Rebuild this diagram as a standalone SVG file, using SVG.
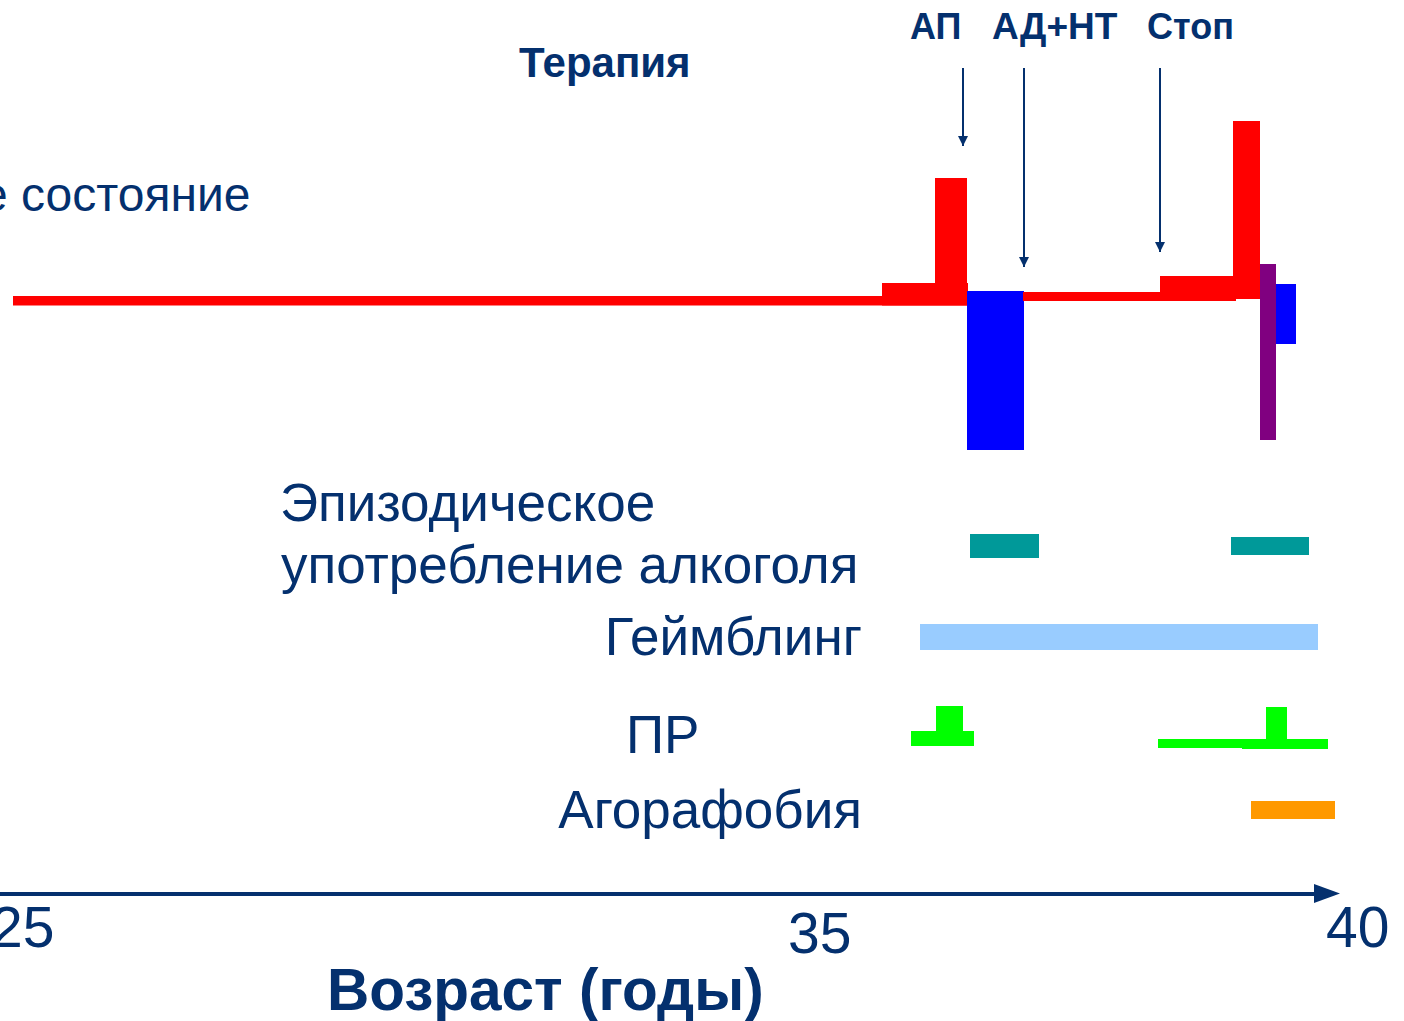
<svg xmlns="http://www.w3.org/2000/svg" width="1404" height="1021" viewBox="0 0 1404 1021">
<style>
text{font-family:"Liberation Sans",Arial,sans-serif;fill:#04306E}
.b{font-weight:bold}
.lbl{font-size:53px}
.num{font-size:57px}
.arr{stroke:#04306E;stroke-width:2;fill:none}
</style>
<defs>
<marker id="ah" viewBox="0 0 10 10" refX="10" refY="5" markerWidth="10" markerHeight="10" markerUnits="userSpaceOnUse" orient="auto">
<path d="M0,0 L10,5 L0,10 Z" fill="#04306E"/>
</marker>
</defs>
<rect width="1404" height="1021" fill="#fff"/>
<g id="titles">
<text class="b" x="519" y="77" font-size="42">Терапия</text>
<text class="b" x="910" y="39" font-size="36">АП</text>
<text class="b" x="992" y="39" font-size="37">АД+НТ</text>
<text class="b" x="1147" y="39" font-size="36">Стоп</text>
<text x="-19" y="211" font-size="48">е состояние</text>
</g>
<g id="connectors">
<line class="arr" x1="963" y1="68" x2="963" y2="146" marker-end="url(#ah)"/>
<line class="arr" x1="1024" y1="68" x2="1024" y2="267" marker-end="url(#ah)"/>
<line class="arr" x1="1160" y1="68" x2="1160" y2="252" marker-end="url(#ah)"/>
</g>
<g id="state">
<rect x="13" y="296" width="955" height="9.5" fill="#f00"/>
<rect x="882" y="283" width="86" height="22.5" fill="#f00"/>
<rect x="935" y="178" width="32" height="127" fill="#f00"/>
<rect x="967" y="291" width="57" height="159" fill="#00f"/>
<rect x="1023" y="292" width="213" height="9" fill="#f00"/>
<rect x="1160" y="276" width="75" height="24" fill="#f00"/>
<rect x="1233" y="121" width="27" height="178" fill="#f00"/>
<rect x="1260" y="264" width="16" height="176" fill="#800080"/>
<rect x="1276" y="284" width="20" height="60" fill="#00f"/>
</g>
<g id="alcohol">
<text class="lbl" x="280" y="521">Эпизодическое</text>
<text class="lbl" x="281" y="583">употребление алкоголя</text>
<rect x="970" y="534" width="69" height="24" fill="#009999"/>
<rect x="1231" y="537" width="78" height="18" fill="#009999"/>
</g>
<g id="gambling">
<text class="lbl" x="862" y="655" text-anchor="end">Геймблинг</text>
<rect x="920" y="624" width="398" height="26" fill="#99CCFF"/>
</g>
<g id="pr">
<text class="lbl" x="626" y="753">ПР</text>
<rect x="936" y="706" width="27" height="26" fill="#0f0"/>
<rect x="911" y="731" width="63" height="15" fill="#0f0"/>
<rect x="1158" y="739" width="86" height="9" fill="#0f0"/>
<rect x="1242" y="739" width="86" height="10" fill="#0f0"/>
<rect x="1266" y="707" width="21" height="33" fill="#0f0"/>
</g>
<g id="agoraphobia">
<text class="lbl" x="862" y="828" text-anchor="end">Агорафобия</text>
<rect x="1251" y="801" width="84" height="18" fill="#FF9900"/>
</g>
<g id="axis">
<line x1="0" y1="894" x2="1316" y2="894" stroke="#04306E" stroke-width="4"/>
<polygon points="1314,884 1340,893.5 1314,903" fill="#04306E"/>
<text class="num" x="-9" y="947">25</text>
<text class="num" x="788" y="953">35</text>
<text class="num" x="1326" y="947">40</text>
<text class="b" x="327" y="1010" font-size="58.5">Возраст (годы)</text>
</g>
</svg>
